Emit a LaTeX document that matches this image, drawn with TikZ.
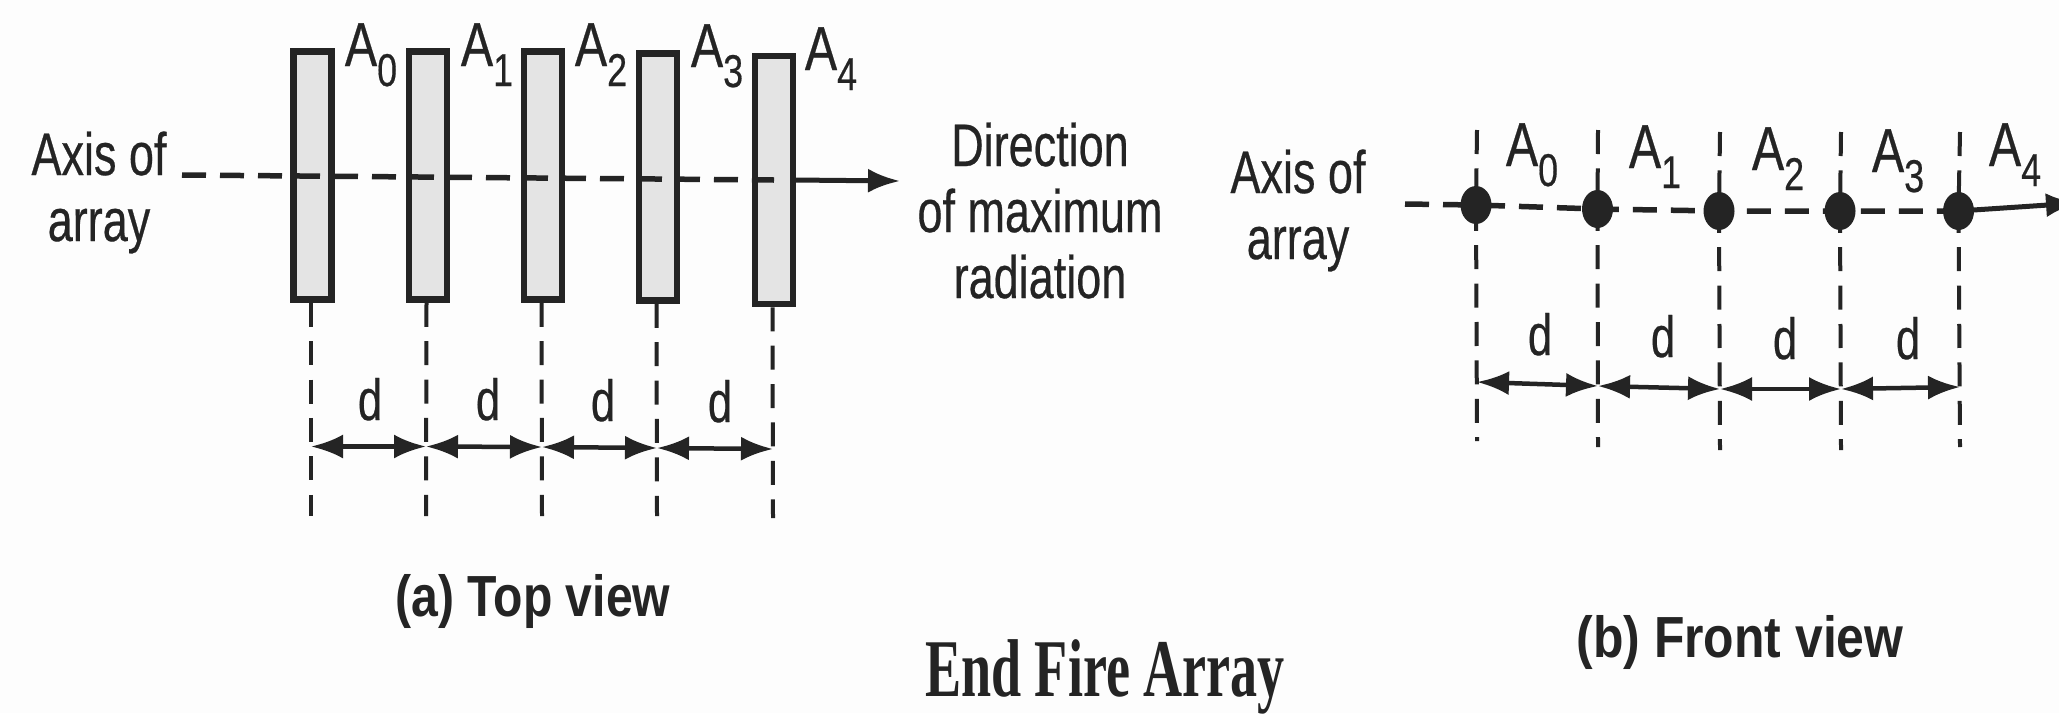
\documentclass[tikz,border=0pt]{standalone}
\usepackage{graphicx}
\usepackage{fontspec}
\setmainfont{Liberation Sans}[FakeBold=0.5]
\newfontfamily\capsans{Liberation Sans}[Scale=1]
\newfontfamily\capfont{Liberation Serif}
\usetikzlibrary{arrows.meta,shapes.geometric}
\definecolor{ink}{HTML}{242424}
\definecolor{barfill}{HTML}{E4E4E4}
\definecolor{paper}{HTML}{FDFDFD}
\newcommand{\lbl}[1]{\scalebox{.75}[1]{\fontsize{60}{66}\selectfont\begin{tabular}[t]{@{}c@{}}#1\end{tabular}}}
\newcommand{\ant}[1]{\scalebox{.78}[1]{\fontsize{62}{62}\selectfont A\raisebox{-20pt}{\fontsize{46}{46}\selectfont #1}}}
\newcommand{\dlab}{\scalebox{.75}[1]{\fontsize{58}{58}\selectfont d}}
\begin{document}
\begin{tikzpicture}[x=1pt,y=-1pt,
  bar/.style={draw=ink,fill=barfill,line width=6.5pt,minimum width=38pt,inner sep=0pt},
  dot/.style={ellipse,fill=ink,minimum width=31pt,minimum height=38pt,inner sep=0pt},
  txt/.style={text=ink,inner sep=0pt,anchor=base},
  axisdash/.style={draw=ink,line width=5.5pt,dash pattern=on 24pt off 14pt},
  guide/.style={draw=ink,line width=4pt,dash pattern=on 24pt off 14.4pt},
  dim/.style={draw=ink,line width=4.5pt,{Latex[length=32pt,width=24pt]}-{Latex[length=32pt,width=24pt]}},
  ray/.style={draw=ink,line width=5pt,-{Latex[length=32pt,width=24pt]}}]
\path[use as bounding box,fill=paper] (0,0) rectangle (2059,713);
\clip (0,0) rectangle (2059,713);
% Top view
\node[bar,minimum height=248pt] (r0) at (312.5,175.5) {};
\node[bar,minimum height=248pt] (r1) at (428,175.5) {};
\node[bar,minimum height=248pt] (r2) at (543,175.5) {};
\node[bar,minimum height=247pt] (r3) at (658,177) {};
\node[bar,minimum height=248pt] (r4) at (774,180) {};
\coordinate (axl) at (182,175);
\coordinate (axm) at (r4.center);
\coordinate (rayend) at (900,181);
\draw[axisdash] (axl) -- (axm);
\draw[ray] (r4.east) ++(-3,0) coordinate (rs) (rs) -- (rayend);
\foreach \n/\x/\y/\yy in {0/311/446.5/516,1/426/446.5/516,2/542/447/516,3/657/448/516,4/773/449/518}{
  \coordinate (gb\n) at (\x,\yy);
  \coordinate (gm\n) at (\x,\y);
  \draw[guide] (r\n.south) ++(-1.5,0) -- (gb\n);
}
\draw[dim] (gm0) -- (gm1);
\draw[dim] (gm1) -- (gm2);
\draw[dim] (gm2) -- (gm3);
\draw[dim] (gm3) -- (gm4);
\node[txt] (ta0) at (371,66) {\ant{0}};
\node[txt] (ta1) at (487,66) {\ant{1}};
\node[txt] (ta2) at (601,66) {\ant{2}};
\node[txt] (ta3) at (717,67) {\ant{3}};
\node[txt] (ta4) at (831,70) {\ant{4}};
\node[txt] (td0) at (370,420) {\dlab};
\node[txt] (td1) at (488,420) {\dlab};
\node[txt] (td2) at (603,421) {\dlab};
\node[txt] (td3) at (720,422) {\dlab};
\node[txt] (taxis) at (99,175) {\lbl{Axis of\\array}};
\node[txt] (tdir) at (1040,166) {\lbl{Direction\\of maximum\\radiation}};
\node[txt] (tcapa) at (533,616) {\scalebox{.83}[1]{\fontsize{58}{58}\selectfont\capsans\bfseries (a) Top view}};
% Front view
\node[dot] (c0) at (1476,205) {};
\node[dot] (c1) at (1597.5,209) {};
\node[dot] (c2) at (1719,211) {};
\node[dot] (c3) at (1840,211) {};
\node[dot] (c4) at (1958.5,211) {};
\coordinate (bxl) at (1405,204);
\coordinate (bxr) at (2078,203);
\draw[axisdash] (bxl) -- (c0.center) -- (c1.center) -- (c2.center) -- (c3.center) -- (c4.center);
\draw[ray] (c4.center) -- (bxr);
\foreach \n/\x/\y/\t/\yy in {0/1477/382/130/441,1/1598/386/130/447,2/1720/389/132/450,3/1841/389/132/450,4/1960/387/132/447}{
  \coordinate (bt\n) at (\x,\t);
  \coordinate (bb\n) at (\x,\yy);
  \coordinate (bm\n) at (\x,\y);
  \draw[guide] (bt\n) -- (c\n.center) -- (bb\n);
}
\draw[dim] (bm0) -- (bm1);
\draw[dim] (bm1) -- (bm2);
\draw[dim] (bm2) -- (bm3);
\draw[dim] (bm3) -- (bm4);
\node[txt] (fa0) at (1532,166) {\ant{0}};
\node[txt] (fa1) at (1655,168) {\ant{1}};
\node[txt] (fa2) at (1778,170) {\ant{2}};
\node[txt] (fa3) at (1898,172) {\ant{3}};
\node[txt] (fa4) at (2015,166) {\ant{4}};
\node[txt] (fd0) at (1540,355) {\dlab};
\node[txt] (fd1) at (1663,357) {\dlab};
\node[txt] (fd2) at (1785,359) {\dlab};
\node[txt] (fd3) at (1908,359) {\dlab};
\node[txt] (faxis) at (1298,193) {\lbl{Axis of\\array}};
\node[txt] (tcapb) at (1740,657) {\scalebox{.86}[1]{\fontsize{58}{58}\selectfont\capsans\bfseries (b) Front view}};
\node[txt,text=ink] (ttitle) at (1105,696) {\scalebox{.66}[1]{\fontsize{82}{82}\selectfont\capfont\bfseries End Fire Array}};
\end{tikzpicture}
\end{document}
